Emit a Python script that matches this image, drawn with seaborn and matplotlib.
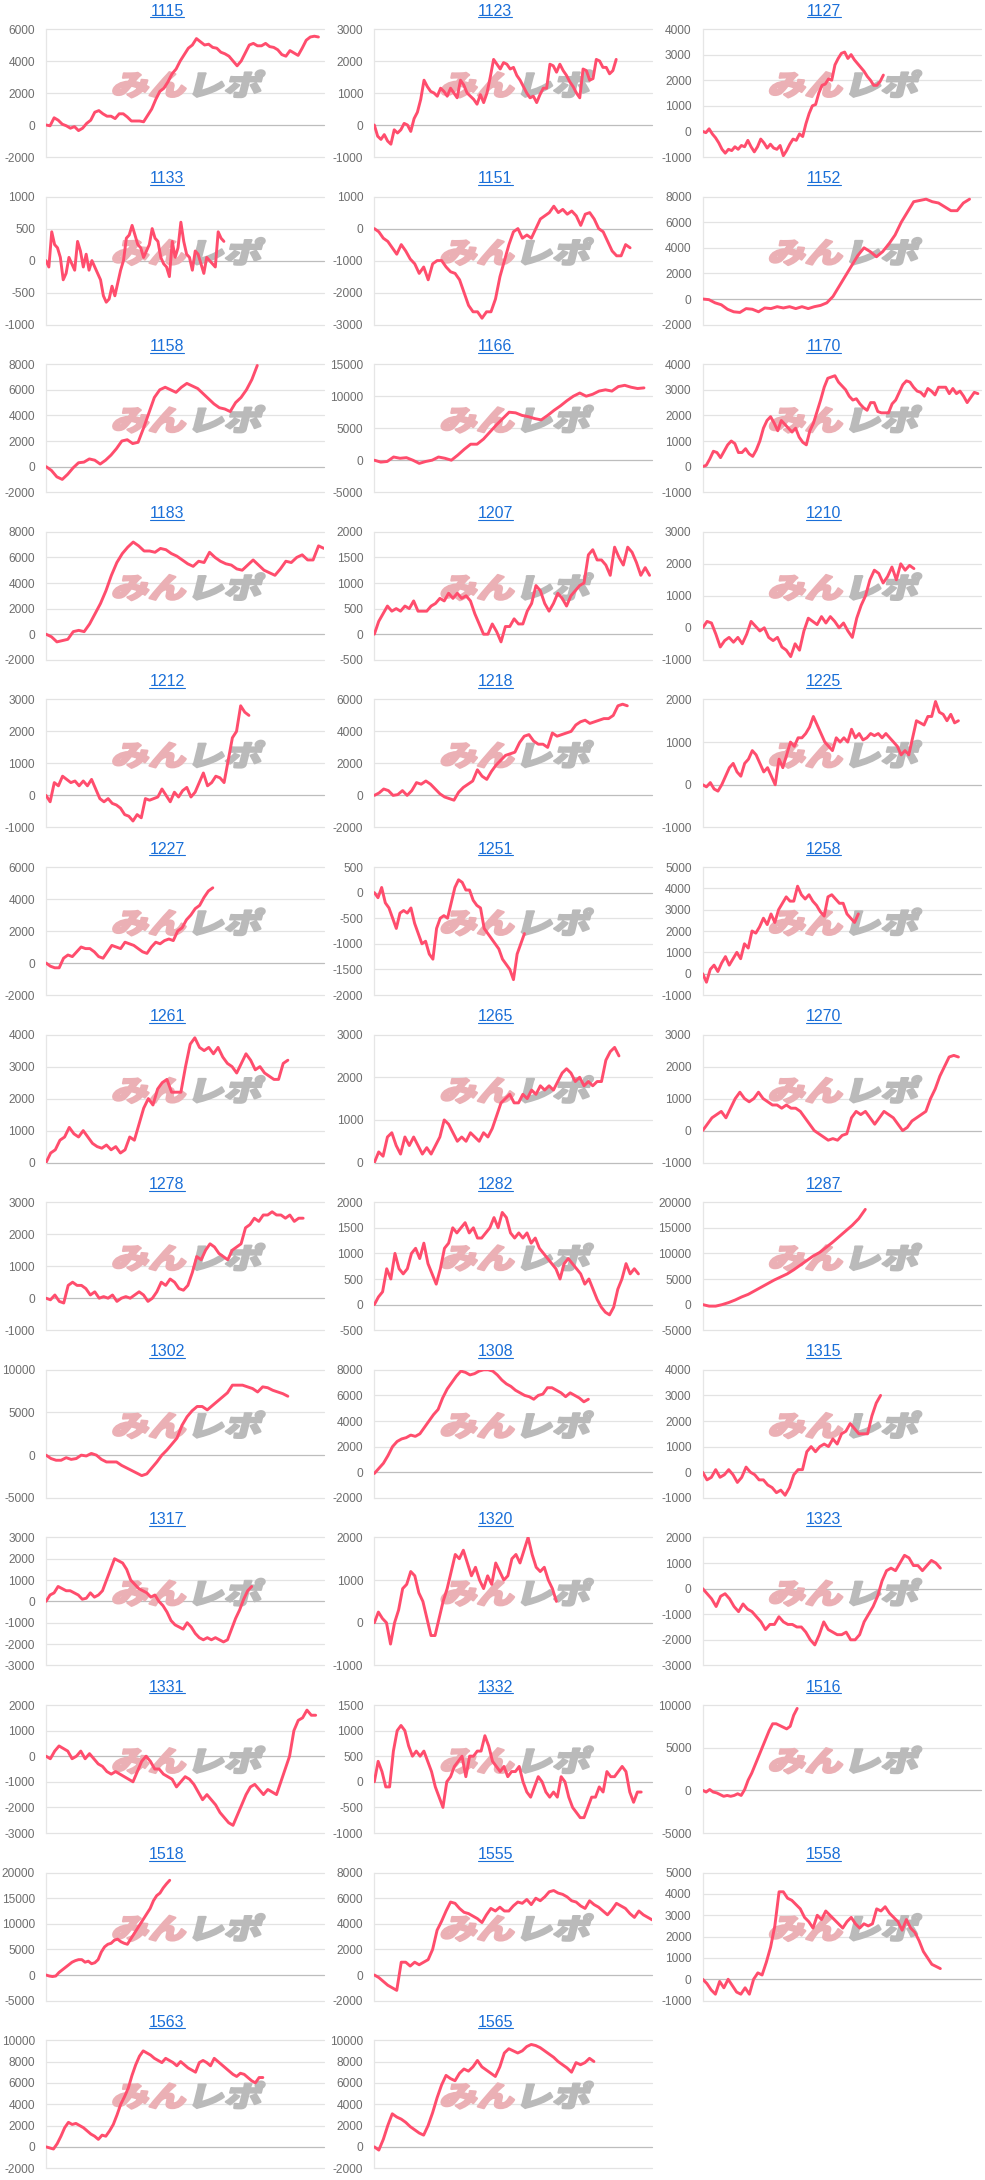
import numpy as np
import pandas as pd
import matplotlib
matplotlib.use("Agg")
import matplotlib.pyplot as plt
import seaborn as sns
from matplotlib.textpath import TextPath
from matplotlib.patches import PathPatch
from matplotlib.font_manager import FontProperties
from matplotlib.transforms import Affine2D, IdentityTransform
from matplotlib.lines import Line2D

sns.set_theme(style="white")
plt.rcParams["font.family"] = ["Liberation Sans", "DejaVu Sans"]

# ---------------- data ----------------
titles = ["1115", "1123", "1127", "1133", "1151", "1152", "1158", "1166", "1170",
          "1183", "1207", "1210", "1212", "1218", "1225", "1227", "1251", "1258",
          "1261", "1265", "1270", "1278", "1282", "1287", "1302", "1308", "1315",
          "1317", "1320", "1323", "1331", "1332", "1516", "1518", "1555", "1558",
          "1563", "1565"]
y_min = [-2000, -1000, -1000, -1000, -3000, -2000, -2000, -5000, -1000,
         -2000, -500, -1000, -1000, -2000, -1000, -2000, -2000, -1000,
         0, 0, -1000, -1000, -500, -5000, -5000, -2000, -1000,
         -3000, -1000, -3000, -3000, -1000, -5000, -5000, -2000, -1000,
         -2000, -2000]
y_max = [6000, 3000, 4000, 1000, 1000, 8000, 8000, 15000, 4000,
         8000, 2000, 3000, 3000, 6000, 2000, 6000, 500, 5000,
         4000, 3000, 3000, 3000, 2000, 20000, 10000, 8000, 4000,
         3000, 2000, 2000, 2000, 1500, 10000, 20000, 8000, 5000,
         10000, 10000]
y_step = [2000, 1000, 1000, 500, 1000, 2000, 2000, 5000, 1000,
          2000, 500, 1000, 1000, 2000, 1000, 2000, 500, 1000,
          1000, 1000, 1000, 1000, 500, 5000, 5000, 2000, 1000,
          1000, 1000, 1000, 1000, 500, 5000, 5000, 2000, 1000,
          2000, 2000]
# share of the x axis that each machine's record covers
x_end = [0.98, 0.87, 0.65, 0.64, 0.92, 0.96, 0.76, 0.97, 0.99,
         1.00, 0.99, 0.76, 0.73, 0.91, 0.92, 0.60, 0.54, 0.56,
         0.87, 0.88, 0.92, 0.925, 0.95, 0.585, 0.87, 0.77, 0.64,
         0.74, 0.655, 0.855, 0.97, 0.96, 0.34, 0.445, 1.00, 0.855,
         0.78, 0.79]

v1115 = [0, -50, 450, 300, 50, -50, -200, -100, -350, -200, 100, 300, 800, 900, 700, 550, 550, 400, 700, 700,
         500, 250, 250, 250, 200, 600, 1000, 1600, 2100, 2300, 2700, 3200, 3500, 4000, 4400, 4800, 5000, 5400,
         5200, 5000, 5050, 4850, 4800, 4550, 4450, 4300, 4000, 3700, 4000, 4500, 5000, 5100, 4950, 4950, 5100,
         4900, 4850, 4700, 4400, 4300, 4650, 4500, 4350, 4800, 5300, 5500, 5550, 5500]
v1123 = [0, -350, -450, -300, -500, -600, -150, -250, -150, 50, 0, -200, 200, 400, 800, 1400, 1200, 1050, 1000,
         900, 1150, 1050, 900, 1150, 1000, 850, 1400, 1250, 1000, 900, 800, 650, 950, 700, 1000, 1500, 2050, 1900,
         1750, 1950, 1900, 1750, 1800, 1550, 1400, 1200, 1000, 850, 900, 700, 950, 1150, 1150, 1900, 1850, 1650,
         1900, 1700, 1550, 1350, 1200, 1000, 850, 1750, 1700, 1400, 1450, 2050, 2000, 1800, 1800, 1600, 1700, 2050]
v1127 = [0, -50, 100, -100, -250, -450, -700, -850, -700, -750, -600, -700, -550, -600, -350, -600, -800, -600,
         -300, -450, -650, -500, -650, -700, -550, -950, -750, -500, -300, -350, -100, -200, 300, 700, 1000, 1050,
         1500, 1800, 1850, 2050, 2000, 2600, 2850, 3050, 3100, 2850, 3000, 2800, 2650, 2500, 2350, 2150, 2000,
         1800, 1800, 1950, 2200]
v1133 = [0, -100, 450, 250, 200, 50, -300, -200, 50, -50, -150, 300, 150, -100, 100, -150, 0, -100, -200, -300,
         -550, -650, -600, -400, -550, -350, -150, 0, 350, 400, 550, 400, 250, 200, 50, 150, 250, 500, 350, 300,
         50, -50, -100, -250, 300, 50, 200, 600, 300, 100, 50, -150, 150, 100, -50, -200, 50, 0, -50, -100, 450,
         350, 300]
v1151 = [0, -100, -300, -400, -600, -800, -500, -700, -950, -1100, -1400, -1200, -1600, -1100, -1000, -1000,
         -1200, -1350, -1400, -1600, -2000, -2400, -2600, -2600, -2800, -2600, -2600, -2200, -1500, -1000, -500,
         -100, 0, -300, -200, -300, 0, 300, 400, 500, 700, 500, 600, 450, 550, 400, 100, 450, 500, 300, 0, -100,
         -400, -700, -850, -850, -500, -600]
v1152 = [0, -50, -300, -450, -800, -1000, -1050, -750, -800, -1000, -700, -750, -600, -700, -600, -750, -600,
         -750, -600, -500, -300, 200, 1000, 1800, 2600, 3400, 4000, 3700, 3300, 3700, 4300, 5000, 6000, 6800,
         7600, 7700, 7800, 7600, 7500, 7200, 6900, 6900, 7500, 7800]
v1158 = [0, -300, -800, -1000, -600, -100, 300, 350, 600, 500, 200, 500, 900, 1400, 2000, 2100, 1800, 1900, 3000,
         4200, 5400, 6000, 6200, 6000, 5800, 6200, 6500, 6300, 6100, 5700, 5300, 4900, 4600, 4500, 4300, 5000,
         5400, 6000, 6800, 7900]
v1166 = [0, -300, -200, 500, 300, 400, 0, -500, -200, 0, 500, 300, 0, 800, 1700, 2500, 2500, 3300, 4400, 5500,
         6500, 7500, 7400, 7000, 6800, 6500, 6300, 7000, 7800, 8500, 9300, 10000, 10500, 10000, 10300, 10800,
         11000, 10800, 11500, 11700, 11400, 11200, 11300]
v1170 = [0, 50, 300, 600, 550, 350, 600, 850, 1000, 900, 550, 550, 700, 500, 400, 650, 1000, 1500, 1800, 1950,
         1700, 1400, 1800, 1650, 1500, 1350, 1500, 1150, 950, 850, 1400, 1700, 2150, 2600, 3100, 3450, 3500, 3550,
         3300, 3150, 3000, 2750, 2600, 2650, 2450, 2300, 2200, 2500, 2500, 2150, 2100, 2100, 2100, 2450, 2600,
         2900, 3200, 3350, 3300, 3100, 2950, 2900, 2750, 3050, 2950, 2800, 3100, 3100, 3100, 2850, 3050, 2850,
         2950, 2750, 2500, 2700, 2900, 2850]
v1183 = [0, -200, -600, -500, -400, 200, 300, 200, 800, 1600, 2400, 3400, 4600, 5600, 6300, 6800, 7200, 6900,
         6500, 6500, 6400, 6700, 6600, 6300, 6100, 5800, 5500, 5300, 5700, 5600, 6400, 6000, 5700, 5500, 5400,
         5100, 5000, 5400, 5800, 5400, 5000, 4800, 4600, 5100, 5700, 5600, 6000, 6200, 5800, 5800, 6900, 6700]
v1207 = [0, 250, 400, 550, 450, 500, 450, 550, 500, 650, 450, 450, 450, 550, 600, 700, 650, 800, 700, 800, 700,
         750, 650, 400, 200, 0, 0, 200, 50, -150, 150, 150, 300, 200, 200, 450, 600, 950, 850, 600, 450, 600, 800,
         700, 550, 750, 850, 950, 1000, 1550, 1650, 1450, 1450, 1350, 1150, 1700, 1500, 1350, 1700, 1600, 1400,
         1150, 1300, 1150]
v1210 = [0, 200, 150, -200, -600, -400, -300, -450, -300, -500, -200, 200, 50, -100, 0, -300, -400, -300, -600,
         -700, -900, -500, -700, -100, 300, 200, 100, 350, 150, 350, 200, 0, 150, -100, -300, 300, 700, 1000,
         1500, 1800, 1700, 1400, 1600, 1900, 1500, 2000, 1800, 1950, 1850]
v1212 = [0, -200, 400, 300, 600, 500, 400, 450, 300, 450, 300, 500, 200, -100, -200, -100, -250, -300, -400,
         -600, -650, -800, -600, -700, -100, -150, -100, -50, 200, 0, -200, 100, -50, 150, 250, -50, 100, 400, 700,
         300, 400, 600, 550, 400, 1100, 1800, 2000, 2800, 2600, 2500]
v1218 = [0, 150, 400, 300, 0, 50, 300, 0, 300, 800, 700, 900, 700, 400, 100, -100, -200, -300, 200, 500, 700,
         900, 1600, 1200, 1000, 1500, 1900, 2200, 2500, 2600, 2700, 3300, 3700, 3800, 3400, 3200, 3200, 3000, 3900,
         3700, 3800, 3900, 4000, 4400, 4600, 4700, 4500, 4600, 4700, 4800, 4800, 5000, 5600, 5700, 5600]
v1225 = [0, -50, 50, -100, -150, 0, 200, 400, 500, 300, 200, 500, 600, 800, 700, 500, 300, 400, 200, 0, 600, 400,
         700, 1000, 900, 1100, 1100, 1200, 1350, 1600, 1400, 1200, 1000, 900, 800, 1100, 1000, 1100, 1000, 1300,
         1100, 1200, 1050, 1100, 1200, 1150, 1200, 1100, 1200, 1100, 1000, 900, 700, 800, 700, 1100, 1500, 1450,
         1400, 1600, 1600, 1950, 1700, 1650, 1500, 1650, 1450, 1500]
v1227 = [0, -200, -300, -300, 300, 500, 400, 700, 1000, 900, 900, 700, 400, 300, 700, 1100, 1000, 900, 1300, 1200,
         1100, 900, 700, 600, 1000, 1300, 1200, 1400, 1500, 1400, 2000, 2200, 2700, 3000, 3400, 3600, 4100, 4500,
         4700]
v1251 = [0, -100, 100, -200, -300, -500, -700, -400, -350, -400, -300, -600, -800, -1000, -950, -1200, -1300,
         -700, -500, -450, -500, -200, 100, 250, 200, 50, 50, -150, -250, -300, -700, -800, -900, -1000, -1100,
         -1300, -1400, -1500, -1700, -1200, -1000, -800]
v1258 = [0, -400, 200, 400, 100, 500, 800, 400, 700, 1000, 700, 1400, 1200, 2000, 1900, 2200, 2600, 2300, 2800,
         2400, 3000, 3300, 3600, 3400, 3400, 4100, 3700, 3500, 3700, 3400, 3200, 2900, 2700, 3600, 3700, 3500,
         3300, 3300, 2800, 2600, 2400, 2800]
v1261 = [0, 300, 400, 700, 800, 1100, 900, 800, 1000, 800, 600, 500, 450, 550, 400, 500, 300, 400, 800, 700, 1200,
         1700, 2000, 1800, 2300, 2500, 2600, 2200, 2200, 2200, 3000, 3700, 3900, 3600, 3500, 3600, 3400, 3600,
         3300, 3100, 3000, 2800, 3100, 3400, 3200, 2900, 3000, 2800, 2700, 2600, 2600, 3100, 3200]
v1265 = [0, 250, 150, 600, 700, 400, 200, 600, 400, 600, 400, 200, 350, 200, 400, 600, 1000, 900, 700, 500, 600,
         500, 700, 600, 500, 700, 600, 800, 1100, 1400, 1500, 1600, 1400, 1400, 1600, 1500, 1700, 1600, 1800,
         1700, 1800, 1700, 1900, 2100, 2200, 2100, 1900, 2000, 1800, 1900, 1800, 1900, 1900, 2400, 2600, 2700,
         2500]
v1270 = [0, 200, 400, 500, 600, 400, 700, 1000, 1200, 1000, 900, 1000, 1200, 1000, 900, 800, 800, 700, 800, 700,
         700, 600, 400, 200, 0, -100, -200, -300, -250, -300, -150, -100, 400, 600, 500, 600, 400, 200, 400, 600,
         500, 400, 200, 0, 100, 300, 400, 500, 600, 1000, 1300, 1700, 2000, 2300, 2350, 2300]
v1278 = [0, -50, 100, -100, -150, 400, 500, 400, 400, 300, 100, 200, 0, 50, 0, 100, -100, 0, 50, 0, 100, 200,
         100, -100, 0, 200, 500, 400, 600, 500, 300, 250, 400, 800, 1300, 1200, 1500, 1700, 1600, 1400, 1300,
         1200, 1500, 1600, 1700, 2200, 2300, 2500, 2400, 2600, 2600, 2700, 2600, 2600, 2500, 2600, 2400, 2500,
         2500]
v1282 = [0, 150, 250, 700, 500, 1000, 700, 600, 700, 1000, 1100, 900, 1200, 800, 600, 400, 700, 1100, 1200, 1500,
         1400, 1500, 1600, 1400, 1500, 1300, 1300, 1400, 1500, 1700, 1500, 1800, 1700, 1400, 1300, 1400, 1300,
         1400, 1200, 1300, 1100, 1000, 900, 800, 700, 500, 800, 900, 800, 700, 600, 400, 500, 300, 100, -50, -150,
         -200, -50, 300, 500, 800, 600, 700, 600]
v1287 = [0, -300, -300, 0, 400, 900, 1500, 2000, 2700, 3400, 4100, 4800, 5400, 6000, 6800, 7700, 8600, 9500,
         10200, 11200, 12200, 13300, 14400, 15500, 16800, 18600]
v1302 = [0, -400, -600, -600, -300, -500, -400, 0, -100, 200, 0, -500, -800, -800, -800, -1200, -1500, -1800,
         -2100, -2400, -2200, -1500, -800, 0, 600, 1300, 2000, 3500, 4500, 5200, 5700, 5700, 5300, 5800, 6300,
         6800, 7300, 8200, 8200, 8200, 8000, 7800, 7400, 8000, 7900, 7600, 7400, 7200, 6900]
v1308 = [-100, 300, 700, 1300, 2000, 2400, 2600, 2700, 2900, 2800, 3000, 3500, 4000, 4500, 4900, 5800, 6500,
         7000, 7500, 7900, 7800, 7600, 7700, 7900, 8000, 8000, 7900, 7600, 7200, 6900, 6700, 6400, 6200, 6000,
         5900, 5700, 6000, 6100, 6600, 6600, 6400, 6200, 5900, 6200, 6000, 5800, 5500, 5700]
v1315 = [0, -300, -200, 100, -200, -100, 100, -100, -400, -200, 200, 0, -100, -300, -300, -500, -600, -800, -700,
         -900, -600, -100, 100, 100, 800, 1000, 800, 1000, 1100, 1000, 1300, 1100, 1500, 1600, 1900, 1700, 1500,
         1500, 1500, 2200, 2700, 3000]
v1317 = [0, 300, 400, 700, 600, 500, 500, 400, 300, 100, 150, 400, 200, 300, 500, 1000, 1500, 2000, 1900, 1800,
         1500, 1000, 800, 600, 500, 400, 200, 300, 0, -200, -500, -900, -1100, -1200, -1300, -1000, -1200, -1500,
         -1700, -1800, -1700, -1800, -1700, -1800, -1900, -1800, -1300, -800, -400, 100, 500, 700]
v1320 = [0, 250, 100, 0, -500, 0, 300, 800, 900, 1200, 1100, 700, 500, 100, -300, -300, 100, 500, 800, 1200, 1600,
         1500, 1700, 1400, 1100, 1300, 1000, 800, 1100, 900, 1400, 1200, 1000, 1100, 1500, 1600, 1400, 1700, 2000,
         1600, 1300, 1200, 1300, 1000, 800, 500]
v1323 = [0, -200, -400, -700, -300, -200, -400, -700, -900, -600, -800, -900, -1100, -1300, -1600, -1400, -1400,
         -1100, -1300, -1400, -1400, -1500, -1500, -1700, -2000, -2200, -1800, -1300, -1600, -1700, -1800, -1800,
         -1700, -2000, -2000, -1800, -1300, -1000, -700, -300, 300, 700, 800, 700, 1000, 1300, 1200, 900, 900,
         700, 900, 1100, 1000, 800]
v1331 = [0, -100, 200, 400, 300, 200, -100, 0, 200, -100, 100, -100, -300, -400, -600, -700, -600, -700, -800,
         -900, -1000, -600, -200, 0, -200, -500, -500, -700, -800, -900, -1200, -1000, -800, -900, -1100, -1400,
         -1700, -1500, -1700, -1900, -2200, -2400, -2600, -2700, -2300, -1900, -1500, -1200, -1100, -1300, -1500,
         -1300, -1400, -1500, -1000, -500, 0, 1000, 1400, 1500, 1800, 1600, 1600]
v1332 = [0, 400, 200, -100, -100, 600, 1000, 1100, 1000, 700, 500, 600, 500, 600, 400, 200, -100, -300, -500, 0,
         100, 300, 400, 500, 100, 500, 500, 600, 600, 900, 700, 400, 300, 200, 300, 100, 200, 200, 300, 0, -200,
         -300, -100, 100, 0, -200, -300, -200, -300, 100, 0, -300, -500, -600, -700, -700, -500, -300, -300, -100,
         -200, 200, 100, 100, 200, 300, 200, -200, -400, -200, -200]
v1516 = [0, -200, 100, -200, -300, -500, -700, -600, -700, -600, -400, -600, 100, 1200, 2000, 3000, 4000, 5000,
         6000, 7000, 7800, 7800, 7600, 7400, 7200, 7500, 8800, 9600]
v1518 = [0, -200, -300, -200, 500, 1000, 1500, 2000, 2500, 2800, 3000, 3000, 2500, 2700, 2200, 2400, 3000, 4500,
         5500, 6000, 6200, 6800, 7000, 6500, 6200, 6000, 7000, 8000, 9000, 10000, 11000, 12000, 13000, 14500,
         15500, 16000, 17000, 17800, 18500]
v1555 = [0, -200, -500, -800, -1000, -1200, 1000, 1000, 700, 1000, 800, 1000, 1200, 2000, 3500, 4200, 5000, 5700,
         5600, 5200, 4900, 4800, 4600, 4400, 4100, 4700, 5200, 5000, 5300, 5000, 5000, 5400, 5700, 5600, 5900,
         5500, 6000, 5800, 6100, 6500, 6600, 6400, 6300, 6100, 5800, 5700, 5400, 5200, 5800, 5500, 5300, 5000,
         4700, 5100, 5600, 5400, 5200, 4800, 4500, 5000, 4700, 4500, 4300]
v1558 = [0, -200, -500, -700, -100, -400, 0, -300, -600, -700, -400, -700, 0, 300, 200, 800, 1500, 2500, 4100,
         4100, 3800, 3700, 3500, 3300, 2900, 2700, 2400, 3000, 2800, 3200, 3000, 2800, 2600, 2400, 2700, 2900,
         2600, 2400, 2600, 2500, 2600, 3300, 3200, 3400, 3100, 2900, 2700, 2300, 2800, 2400, 2200, 1800, 1300,
         1000, 700, 600, 500]
v1563 = [0, -100, -200, 300, 1000, 1800, 2300, 2100, 2200, 2000, 1800, 1500, 1200, 1000, 700, 1100, 1000, 1500,
         2100, 3000, 4000, 4700, 5500, 6700, 7700, 8500, 9000, 8800, 8600, 8300, 8100, 7900, 8300, 8100, 7900,
         7600, 8000, 7700, 7400, 7200, 7000, 7900, 8100, 7900, 7600, 8300, 8000, 7700, 7400, 7100, 6800, 6600,
         6900, 6800, 6500, 6200, 6000, 6500, 6500]
v1565 = [0, -300, 700, 2000, 3100, 2800, 2600, 2300, 1900, 1600, 1300, 1100, 2000, 3200, 4600, 5800, 6700, 6400,
         6200, 6900, 7300, 7100, 7500, 8100, 7500, 7200, 6900, 6600, 7500, 8800, 9200, 9000, 8800, 9000, 9400,
         9600, 9500, 9300, 9000, 8700, 8400, 8000, 7700, 7400, 7000, 7900, 7700, 7900, 8300, 8000]

series = [v1115, v1123, v1127, v1133, v1151, v1152, v1158, v1166, v1170,
          v1183, v1207, v1210, v1212, v1218, v1225, v1227, v1251, v1258,
          v1261, v1265, v1270, v1278, v1282, v1287, v1302, v1308, v1315,
          v1317, v1320, v1323, v1331, v1332, v1516, v1518, v1555, v1558,
          v1563, v1565]

# ---------------- styling ----------------
LINE = "#ff4d6d"
TITLE_BLUE = "#1a6fd8"
TICK_GRAY = "#6e6e6e"
GRID = "#e3e3e3"
ZERO = "#bdbdbd"
WM_PINK = "#ebb0b5"
WM_GRAY = "#bababa"

W, H = 985, 2180
fig = plt.figure(figsize=(W / 100, H / 100), dpi=100)
fig.patch.set_facecolor("white")
col_w = W / 3.0
row_h = 167.6

wm_fp = FontProperties(family="Noto Sans CJK JP", weight="black")
p_min = TextPath((0, 0), "みん", size=1, prop=wm_fp)
p_repo = TextPath((0, 0), "レポ", size=1, prop=wm_fp)
w_min = p_min.get_extents().x1
w_repo = p_repo.get_extents().x1

title_texts = []
for i, (t, vals) in enumerate(zip(titles, series)):
    r, c = divmod(i, 3)
    x0 = c * col_w + 46
    x1 = c * col_w + 324
    yt = r * row_h + 29
    yb = r * row_h + 157
    ax = fig.add_axes([x0 / W, 1 - yb / H, (x1 - x0) / W, (yb - yt) / H])
    ax.set_facecolor("white")

    xs = np.linspace(0, x_end[i], len(vals))
    df = pd.DataFrame({"x": xs, "y": vals})
    sns.lineplot(data=df, x="x", y="y", ax=ax, color=LINE, linewidth=2.1,
                 zorder=4, estimator=None, sort=False)

    ax.set_xlim(0, 1)
    ax.set_ylim(y_min[i], y_max[i])
    ticks = np.arange(y_min[i], y_max[i] + y_step[i] / 2, y_step[i])
    ax.set_yticks(ticks)
    ax.set_yticklabels([str(int(v)) for v in ticks])
    ax.set_xticks([])
    ax.set_xlabel("")
    ax.set_ylabel("")
    ax.tick_params(axis="y", length=0, pad=8, labelsize=8.6, labelcolor=TICK_GRAY)
    for s in ax.spines.values():
        s.set_visible(False)
    ax.spines["left"].set_visible(True)
    ax.spines["left"].set_color("#e6e6e6")
    ax.spines["left"].set_linewidth(0.9)
    for v in ticks:
        ax.axhline(v, color=ZERO if v == 0 else GRID, lw=0.9, zorder=1, clip_on=False)

    # watermark
    s = 33.0
    sx, sy = 1.13, 0.86
    gap = 0.06
    total = (w_min + gap + w_repo) * s * sx
    cx = x0 + (x1 - x0) / 2.0
    cy_disp = H - (r * row_h + 85)
    base = cy_disp - 0.36 * s * sy
    left = cx - total / 2.0
    tr1 = Affine2D().scale(s * sx, s * sy).skew_deg(14, 0).translate(left, base)
    tr2 = Affine2D().scale(s * sx, s * sy).skew_deg(14, 0).translate(left + (w_min + gap) * s * sx, base)
    ax.add_artist(PathPatch(p_min, transform=tr1, facecolor=WM_PINK, edgecolor=WM_PINK,
                            linewidth=1.6, joinstyle="round", zorder=2, clip_on=False))
    ax.add_artist(PathPatch(p_repo, transform=tr2, facecolor=WM_GRAY, edgecolor=WM_GRAY,
                            linewidth=1.6, joinstyle="round", zorder=2, clip_on=False))

    tt = fig.text((c * col_w + 167) / W, 1 - (r * row_h + 11) / H, t, ha="center", va="center",
                  fontsize=11.5, color=TITLE_BLUE)
    title_texts.append(tt)

fig.canvas.draw()
renderer = fig.canvas.get_renderer()
for tt in title_texts:
    bb = tt.get_window_extent(renderer)
    yline = bb.y0 + 1.2
    ln = Line2D([bb.x0, bb.x1], [yline, yline], transform=IdentityTransform(),
                color=TITLE_BLUE, lw=0.8)
    fig.add_artist(ln)

fig.savefig("out.png", dpi=100, facecolor="white")
